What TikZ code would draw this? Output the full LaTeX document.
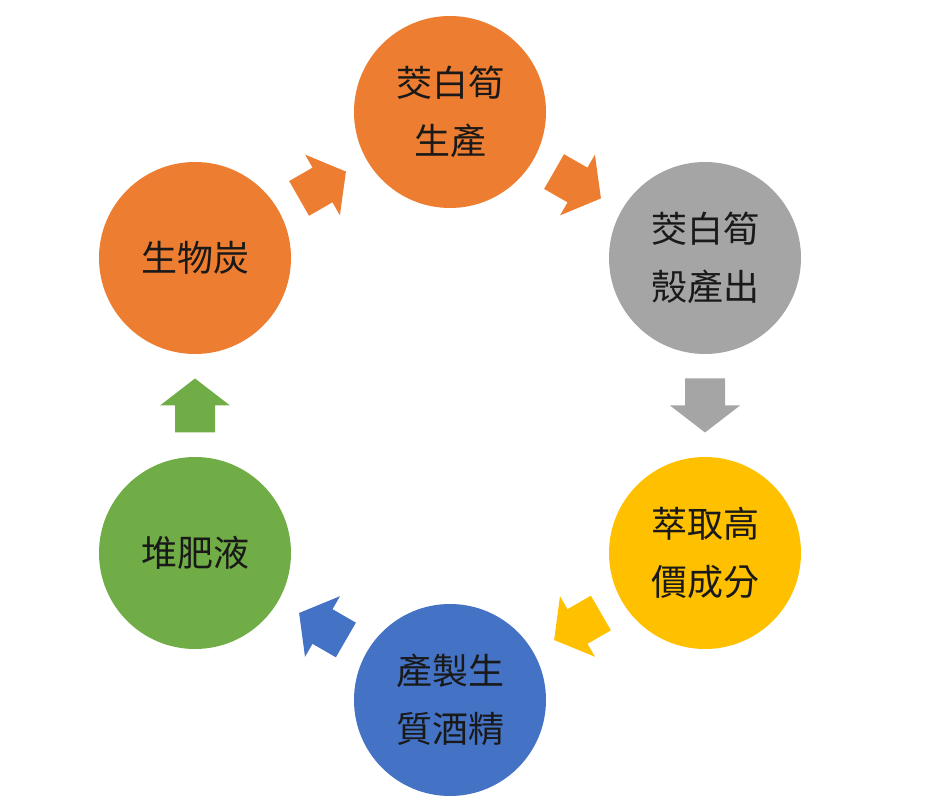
\documentclass[tikz,border=0pt]{standalone}
\usepackage{fontspec}
\newfontfamily\cjk{Noto Sans CJK TC}
\usetikzlibrary{calc}
\definecolor{corange}{HTML}{ED7D31}
\definecolor{cgray}{HTML}{A5A5A5}
\definecolor{cgold}{HTML}{FFC000}
\definecolor{cblue}{HTML}{4472C4}
\definecolor{cgreen}{HTML}{70AD47}
\tikzset{
  stage/.style={circle, minimum size=192pt, inner sep=0pt, align=center,
    font=\cjk\fontsize{36}{58}\selectfont, text=black!90},
  blockarr/.pic={\fill[pic actions] (-27,-20) -- (0,-20) -- (0,-35) -- (27,0) -- (0,35) -- (0,20) -- (-27,20) -- cycle;}
}
\begin{document}
\begin{tikzpicture}[x=1pt,y=1pt]
\useasboundingbox (0,0) rectangle (947,800);
\node[stage, fill=corange] (top) at (450,688) {茭白筍\\生產};
\node[stage, fill=cgray] (ur) at (705,542) {茭白筍\\殼產出};
\node[stage, fill=cgold] (lr) at (705,247) {萃取高\\價成分};
\node[stage, fill=cblue] (bot) at (450,100) {產製生\\質酒精};
\node[stage, fill=cgreen] (ll) at (195,247) {堆肥液};
\node[stage, fill=corange] (ul) at (195,542) {生物炭};
\pic[fill=corange, rotate=29.8] at ($(ul)!0.5!(top)$) {blockarr};
\pic[fill=corange, rotate=-29.8] at ($(top)!0.5!(ur)$) {blockarr};
\pic[fill=cgray, rotate=-90] at ($(ur)!0.5!(lr)$) {blockarr};
\pic[fill=cgold, rotate=210] at ($(lr)!0.5!(bot)$) {blockarr};
\pic[fill=cblue, rotate=150] at ($(bot)!0.5!(ll)$) {blockarr};
\pic[fill=cgreen, rotate=90] at ($(ll)!0.5!(ul)$) {blockarr};
\end{tikzpicture}
\end{document}
